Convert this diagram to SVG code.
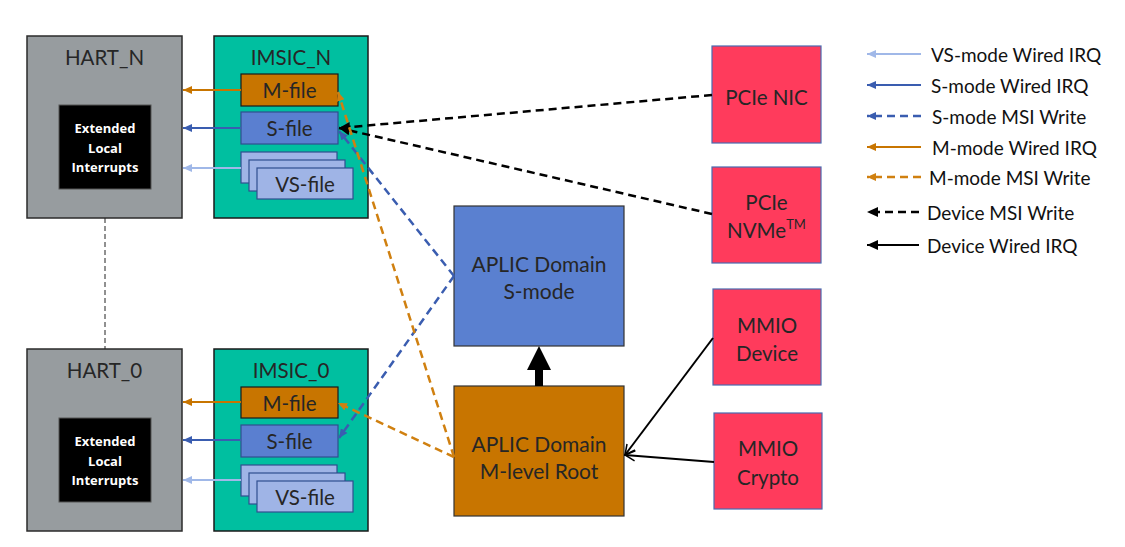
<svg xmlns="http://www.w3.org/2000/svg" width="1125" height="547" viewBox="0 0 1125 547">
<style>
text{font-family:Lato,"Liberation Sans",sans-serif;fill:#262626;text-anchor:middle;dominant-baseline:central}
.t20{font-size:20.5px}
.t21{font-size:21px}
.leg{font-size:19px;text-anchor:start;fill:#111}
.eli{font-family:"Open Sans","Liberation Sans",sans-serif;font-size:13px;font-weight:bold;fill:#fff}
.hart{fill:#979c9f;stroke:#2b2b2b;stroke-width:1.5}
.imsic{fill:#00bfa0;stroke:#1a1a1a;stroke-width:1.5}
.mf{fill:#c87500;stroke:#1a1a1a;stroke-width:1.2}
.sf{fill:#5a7fd0;stroke:#2f4f8f;stroke-width:1.2}
.vs{fill:#9fb4e6;stroke:#2f4f8f;stroke-width:1.2}
.red{fill:#ff3b5c;stroke:#4a6ab0;stroke-width:1.2}
.apS{fill:#5a80d0;stroke:#333;stroke-width:1.2}
.apM{fill:#c87500;stroke:#333;stroke-width:1.2}
.c{fill:none;stroke-width:2}
.or{stroke:#c87500;marker-end:url(#hOr)}
.bl{stroke:#3a5db0;marker-end:url(#hBl)}
.lb{stroke:#a0b8e8;marker-end:url(#hLb)}
.od{stroke:#d08010;stroke-width:2.5;stroke-dasharray:8 5;marker-end:url(#hOd)}
.bd{stroke:#3a5db0;stroke-width:2.5;stroke-dasharray:8 5;marker-end:url(#hBl)}
.kd{stroke:#000;stroke-width:2.5;stroke-dasharray:8 5;marker-end:url(#hK)}
.kw{stroke:#000;marker-end:url(#hKo)}
</style>
<defs>
<marker id="hOr" markerUnits="userSpaceOnUse" markerWidth="10" markerHeight="10" refX="9" refY="5" orient="auto"><path d="M0,1 L9,5 L0,9 Z" fill="#c87500"/></marker>
<marker id="hBl" markerUnits="userSpaceOnUse" markerWidth="10" markerHeight="10" refX="9" refY="5" orient="auto"><path d="M0,1 L9,5 L0,9 Z" fill="#3a5db0"/></marker>
<marker id="hLb" markerUnits="userSpaceOnUse" markerWidth="10" markerHeight="10" refX="9" refY="5" orient="auto"><path d="M0,1 L9,5 L0,9 Z" fill="#a0b8e8"/></marker>
<marker id="hOd" markerUnits="userSpaceOnUse" markerWidth="10" markerHeight="10" refX="9" refY="5" orient="auto"><path d="M0,1 L9,5 L0,9 Z" fill="#d08010"/></marker>
<marker id="hK" markerUnits="userSpaceOnUse" markerWidth="12" markerHeight="12" refX="11" refY="6" orient="auto"><path d="M0,1 L11,6 L0,11 Z" fill="#000"/></marker>
<marker id="hKo" markerUnits="userSpaceOnUse" markerWidth="12" markerHeight="12" refX="11" refY="6" orient="auto"><path d="M1,1 L11,6 L1,11" fill="none" stroke="#000" stroke-width="1.5"/></marker>
</defs>

<g id="hart_n">
<rect class="hart" x="27" y="36" width="155" height="182"/>
<text class="t20" x="104.5" y="57">HART_N</text>
<rect x="59" y="105" width="92" height="84" fill="#000" stroke="#555"/>
<text class="eli" x="105" y="128">Extended</text>
<text class="eli" x="105" y="148">Local</text>
<text class="eli" x="105" y="167">Interrupts</text>
</g>
<g id="imsic_n">
<rect class="imsic" x="214" y="36" width="154" height="182"/>
<text class="t20" x="291" y="57">IMSIC_N</text>
<rect class="mf" x="241" y="74" width="97" height="32"/>
<text class="t20" x="289.5" y="90">M-file</text>
<rect class="sf" x="241" y="112" width="97" height="32"/>
<text class="t20" x="289.5" y="128">S-file</text>
<rect class="vs" x="241" y="152" width="96" height="31"/>
<rect class="vs" x="249" y="160" width="96" height="31"/>
<rect class="vs" x="257" y="168" width="96" height="31"/>
<text class="t20" x="305" y="184">VS-file</text>
</g>
<g id="hart_0">
<rect class="hart" x="27" y="349" width="155" height="182"/>
<text class="t20" x="104.5" y="370">HART_0</text>
<rect x="59" y="418" width="92" height="84" fill="#000" stroke="#555"/>
<text class="eli" x="105" y="441">Extended</text>
<text class="eli" x="105" y="461">Local</text>
<text class="eli" x="105" y="480">Interrupts</text>
</g>
<g id="imsic_0">
<rect class="imsic" x="214" y="349" width="154" height="182"/>
<text class="t20" x="291" y="370">IMSIC_0</text>
<rect class="mf" x="241" y="387" width="97" height="31"/>
<text class="t20" x="289.5" y="403">M-file</text>
<rect class="sf" x="241" y="425" width="97" height="32"/>
<text class="t20" x="289.5" y="441">S-file</text>
<rect class="vs" x="241" y="465" width="96" height="31"/>
<rect class="vs" x="249" y="473" width="96" height="31"/>
<rect class="vs" x="257" y="481" width="96" height="31"/>
<text class="t20" x="305" y="497">VS-file</text>
</g>
<g id="aplic_s">
<rect class="apS" x="454" y="206" width="170" height="140"/>
<text class="t21" x="539" y="263">APLIC Domain</text>
<text class="t21" x="539" y="290">S-mode</text>
</g>
<g id="aplic_m">
<rect class="apM" x="454" y="386" width="170" height="130"/>
<text class="t21" x="539" y="443">APLIC Domain</text>
<text class="t21" x="539" y="470">M-level Root</text>
</g>
<g id="pcie_nic">
<rect class="red" x="712" y="46" width="109" height="97"/>
<text class="t20" x="766.5" y="97">PCIe NIC</text>
</g>
<g id="pcie_nvme">
<rect class="red" x="712" y="167" width="109" height="96"/>
<text class="t20" x="766.5" y="202">PCIe</text>
<text class="t20" x="766.5" y="230">NVMe<tspan font-size="13" dy="-6">TM</tspan></text>
</g>
<g id="mmio_dev">
<rect class="red" x="713" y="289" width="108" height="96"/>
<text class="t20" x="767" y="325">MMIO</text>
<text class="t20" x="767" y="353">Device</text>
</g>
<g id="mmio_crypto">
<rect class="red" x="714" y="413" width="108" height="96"/>
<text class="t20" x="768" y="448">MMIO</text>
<text class="t20" x="768" y="477">Crypto</text>
</g>

<g id="connectors">
<line x1="105" y1="218" x2="105" y2="349" stroke="#222" stroke-width="1" stroke-dasharray="5 3"/>
<line class="c or" x1="241" y1="90" x2="183" y2="90"/>
<line class="c bl" x1="241" y1="128" x2="183" y2="128"/>
<line class="c lb" x1="241" y1="168" x2="183" y2="168"/>
<line class="c or" x1="241" y1="402" x2="183" y2="402"/>
<line class="c bl" x1="241" y1="440" x2="183" y2="440"/>
<line class="c lb" x1="241" y1="480" x2="183" y2="480"/>
<line class="c kd" x1="712" y1="95" x2="339" y2="128"/>
<line class="c kd" x1="712" y1="214" x2="339" y2="128"/>
<line class="c bd" x1="454" y1="276" x2="339" y2="131"/>
<line class="c bd" x1="454" y1="276" x2="339" y2="438"/>
<line class="c od" x1="454" y1="457" x2="338" y2="92"/>
<line class="c od" x1="454" y1="457" x2="338" y2="403"/>
<line class="c kw" x1="713" y1="338" x2="625" y2="455"/>
<line class="c kw" x1="714" y1="462" x2="625" y2="455"/>
<rect x="535" y="368" width="8" height="18" fill="#000"/>
<path d="M527,370 L539,346 L551,370 Z" fill="#000"/>
</g>

<g id="legend">
<line class="c lb" x1="921" y1="54" x2="867" y2="54"/>
<text class="leg" x="931" y="54">VS-mode Wired IRQ</text>
<line class="c bl" x1="921" y1="85" x2="867" y2="85"/>
<text class="leg" x="931" y="85">S-mode Wired IRQ</text>
<line class="c bd" x1="921" y1="116" x2="867" y2="116"/>
<text class="leg" x="932" y="116">S-mode MSI Write</text>
<line class="c or" x1="921" y1="147" x2="867" y2="147"/>
<text class="leg" x="932" y="147">M-mode Wired IRQ</text>
<line class="c od" x1="921" y1="177" x2="867" y2="177"/>
<text class="leg" x="929" y="177">M-mode MSI Write</text>
<line class="c kd" x1="919" y1="212" x2="867" y2="212" stroke-dasharray="6 3"/>
<text class="leg" x="927" y="212">Device MSI Write</text>
<line class="c" stroke="#000" x1="919" y1="245" x2="867" y2="245" marker-end="url(#hK)"/>
<text class="leg" x="927" y="245">Device Wired IRQ</text>
</g>
</svg>
